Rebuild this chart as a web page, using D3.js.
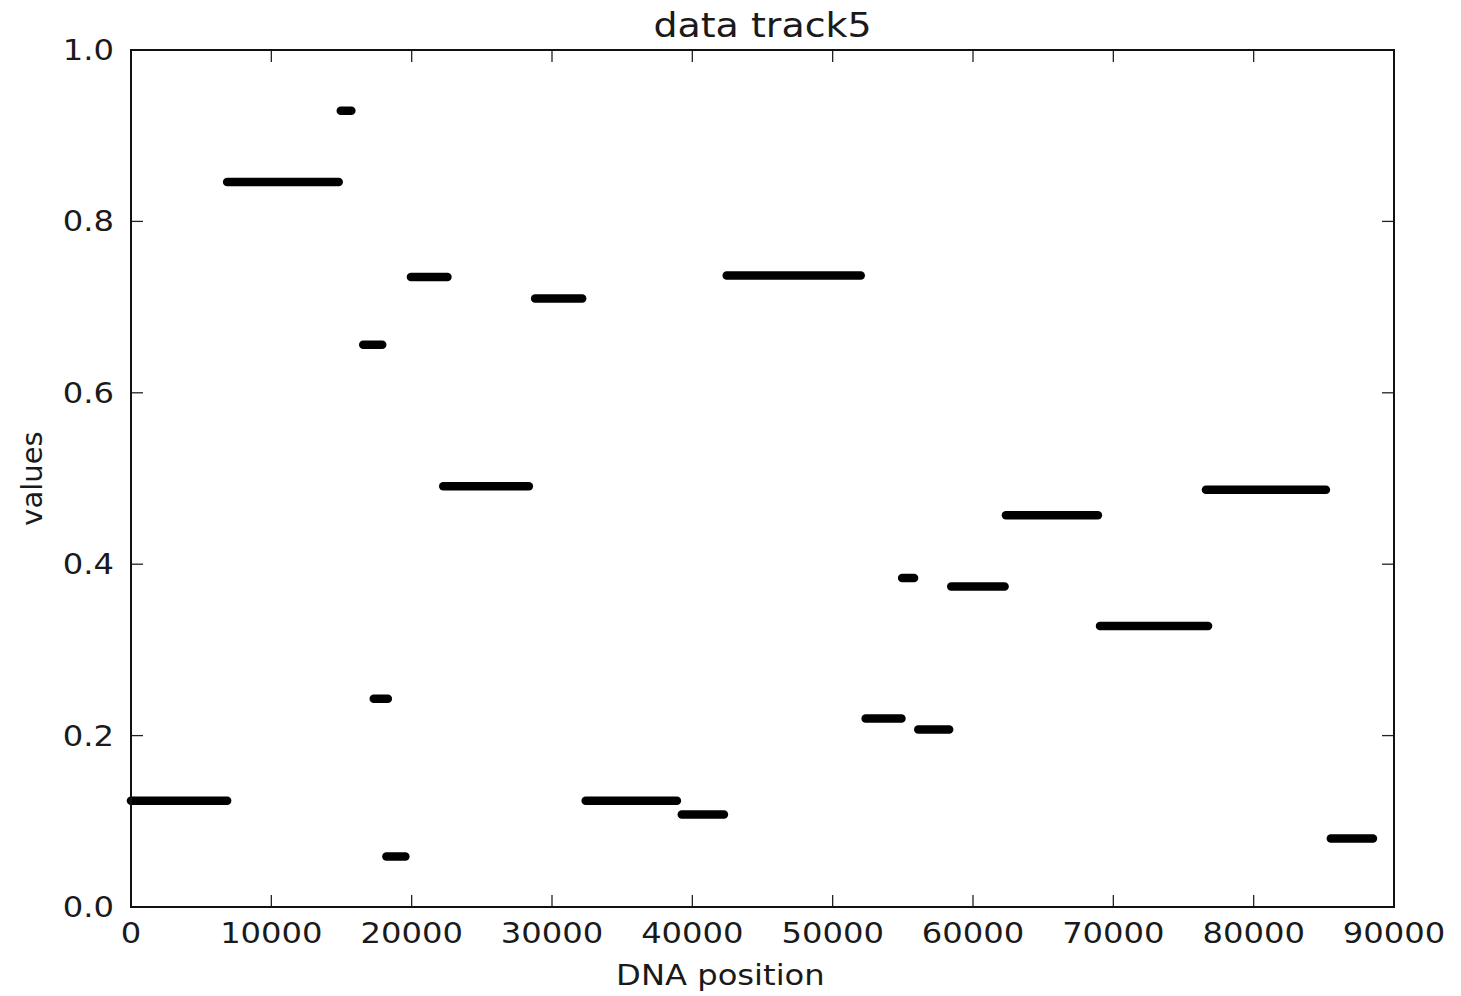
<!DOCTYPE html>
<html>
<head>
<meta charset="utf-8">
<script src="https://cdn.jsdelivr.net/npm/d3@7"></script>
<style>
  html, body { margin: 0; padding: 0; background: #fff; }
  svg { display: block; }
  text { font-family: "DejaVu Sans", sans-serif; fill: #1a1a1a; }
</style>
</head>
<body>
<svg id="chart" width="1461" height="996"></svg>
<script>
// Segment start / end positions (bp) and their values for track 5
const segStart = [0, 6850, 14950, 16550, 17300, 18200, 19950, 22250, 28800, 32400,
                  39250, 42450, 52350, 54950, 56100, 58450, 62350, 69050, 76600, 85500];
const segEnd   = [6850, 14800, 15700, 17900, 18300, 19550, 22550, 28350, 32150, 38900,
                  42250, 52000, 54900, 55800, 58300, 62250, 68900, 76750, 85150, 88500];
const segValue = [0.124, 0.846, 0.929, 0.656, 0.243, 0.059, 0.735, 0.491, 0.710, 0.124,
                  0.108, 0.737, 0.220, 0.384, 0.207, 0.374, 0.457, 0.328, 0.487, 0.080];

const xTicks = [0, 10000, 20000, 30000, 40000, 50000, 60000, 70000, 80000, 90000];
const yTicks = [0.0, 0.2, 0.4, 0.6, 0.8, 1.0];

const titleText = "data track5";
const xLabelText = "DNA position";
const yLabelText = "values";

const margin = { left: 131, right: 67, top: 50, bottom: 89 };
const W = 1461, H = 996;
const stretch = 1.15;   // horizontal glyph stretch of the figure text

const svg = d3.select("#chart");
const x = d3.scaleLinear().domain([0, 90000]).range([margin.left, W - margin.right]);
const y = d3.scaleLinear().domain([0, 1]).range([H - margin.bottom, margin.top]);

const segs = segStart.map((s, i) => ({ s, e: segEnd[i], v: segValue[i] }));

// Segments: thick dark runs with rounded ends
svg.append("g").selectAll("line").data(segs).join("line")
  .attr("x1", d => x(d.s)).attr("x2", d => x(d.e))
  .attr("y1", d => y(d.v)).attr("y2", d => y(d.v))
  .attr("stroke", "#000")
  .attr("stroke-width", 8.5)
  .attr("stroke-linecap", "round");

// Inward ticks on all four sides
const tickLen = 12;
const tk = svg.append("g").attr("stroke", "#222").attr("stroke-width", 1.3);
xTicks.forEach(t => {
  tk.append("line").attr("x1", x(t)).attr("x2", x(t)).attr("y1", y(0)).attr("y2", y(0) - tickLen);
  tk.append("line").attr("x1", x(t)).attr("x2", x(t)).attr("y1", y(1)).attr("y2", y(1) + tickLen);
});
yTicks.forEach(t => {
  tk.append("line").attr("x1", x(0)).attr("x2", x(0) + tickLen).attr("y1", y(t)).attr("y2", y(t));
  tk.append("line").attr("x1", x(90000)).attr("x2", x(90000) - tickLen).attr("y1", y(t)).attr("y2", y(t));
});

// Frame
svg.append("rect")
  .attr("x", x(0)).attr("y", y(1))
  .attr("width", x(90000) - x(0)).attr("height", y(0) - y(1))
  .attr("fill", "none").attr("stroke", "#111").attr("stroke-width", 2);

// Tick labels
const tl = svg.append("g").attr("font-size", 28);
xTicks.forEach(t => {
  tl.append("text")
    .attr("transform", `translate(${x(t)},${y(0) + 36}) scale(${stretch},1)`)
    .attr("text-anchor", "middle")
    .text(d3.format("d")(t));
});
yTicks.forEach(t => {
  tl.append("text")
    .attr("transform", `translate(${x(0) - 17},${y(t) + 10}) scale(${stretch},1)`)
    .attr("text-anchor", "end")
    .text(d3.format(".1f")(t));
});

// Title and axis labels
svg.append("text")
  .attr("transform", `translate(${(x(0) + x(90000)) / 2},37) scale(${stretch},1)`)
  .attr("text-anchor", "middle").attr("font-size", 33)
  .text(titleText);

svg.append("text")
  .attr("transform", `translate(${x(42000)},985) scale(${stretch},1)`)
  .attr("text-anchor", "middle").attr("font-size", 28)
  .text(xLabelText);

svg.append("text")
  .attr("transform", `translate(42,${(y(0) + y(1)) / 2}) rotate(-90)`)
  .attr("text-anchor", "middle").attr("font-size", 29)
  .text(yLabelText);
</script>
</body>
</html>
